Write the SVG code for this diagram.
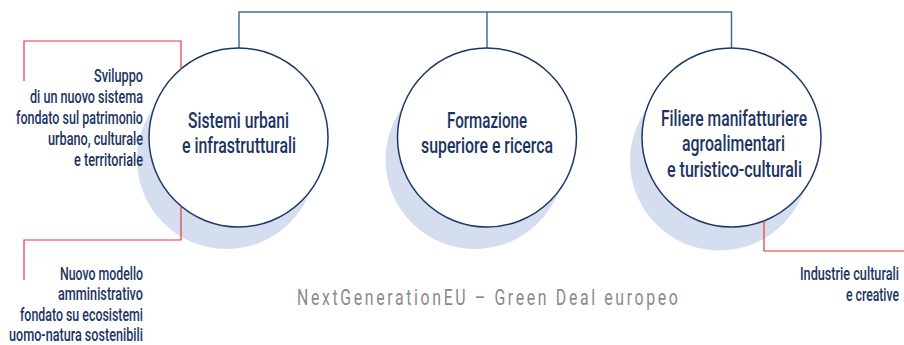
<svg xmlns="http://www.w3.org/2000/svg" width="904" height="345" viewBox="0 0 904 345">
<style>
.bg{fill:#ffffff}
.shadow{fill:#d4deee}
.ring{fill:#ffffff;stroke:#1b3766;stroke-width:1.5}
.t{font-family:Roboto,"Liberation Sans","DejaVu Sans",sans-serif;font-weight:500;fill:#1c3461}
.big{font-size:22.5px}
.small{font-size:19px}
.title{font-family:Roboto,"Liberation Sans","DejaVu Sans",sans-serif;font-weight:400;font-size:22px;fill:#8a8a8a}
.tree{fill:none;stroke:#4f6a92;stroke-width:1.5}
.red{fill:none;stroke:#e8353d;stroke-width:1.2}
</style>
<rect class="bg" x="0" y="0" width="904" height="345"/>
<g id="connectors">
<path class="tree" d="M239,48 V12 H731.5 V48 M487,12 V48"/>
</g>
<g id="node-sistemi-urbani">
<circle class="shadow" cx="226.5" cy="159.5" r="89.5"/>
<circle class="ring" cx="238.5" cy="137.5" r="89.5"/>
<text class="t big" transform="translate(188,127.5) scale(0.7,1)" x="0" y="0" textLength="144.3" lengthAdjust="spacingAndGlyphs">Sistemi urbani</text>
<text class="t big" transform="translate(182,152.5) scale(0.7,1)" x="0" y="0" textLength="162.9" lengthAdjust="spacingAndGlyphs">e infrastrutturali</text>
</g>
<g id="node-formazione">
<circle class="shadow" cx="475" cy="159.5" r="89.5"/>
<circle class="ring" cx="487" cy="137.5" r="89.5"/>
<text class="t big" transform="translate(447,127.5) scale(0.7,1)" x="0" y="0" textLength="114.3" lengthAdjust="spacingAndGlyphs">Formazione</text>
<text class="t big" transform="translate(421,152.5) scale(0.7,1)" x="0" y="0" textLength="188.6" lengthAdjust="spacingAndGlyphs">superiore e ricerca</text>
</g>
<g id="node-filiere">
<circle class="shadow" cx="719.5" cy="161" r="89.5"/>
<circle class="ring" cx="731.5" cy="137.5" r="89.5"/>
<text class="t big" transform="translate(661,125.5) scale(0.7,1)" x="0" y="0" textLength="208.6" lengthAdjust="spacingAndGlyphs">Filiere manifatturiere</text>
<text class="t big" transform="translate(682,151) scale(0.7,1)" x="0" y="0" textLength="147.1" lengthAdjust="spacingAndGlyphs">agroalimentari</text>
<text class="t big" transform="translate(667,176.5) scale(0.7,1)" x="0" y="0" textLength="192.9" lengthAdjust="spacingAndGlyphs">e turistico-culturali</text>
</g>
<g id="red-connectors">
<path class="red" d="M24,81 V41 H181 V69"/>
<path class="red" d="M181,206 V240 H24 V280"/>
<path class="red" d="M764,221 V251 H904"/>
</g>
<g id="note-sviluppo">
<text class="t small" transform="translate(94,82) scale(0.7,1)" x="0" y="0" textLength="70" lengthAdjust="spacingAndGlyphs">Sviluppo</text>
<text class="t small" transform="translate(30,103) scale(0.7,1)" x="0" y="0" textLength="161.4" lengthAdjust="spacingAndGlyphs">di un nuovo sistema</text>
<text class="t small" transform="translate(16,124) scale(0.7,1)" x="0" y="0" textLength="181.4" lengthAdjust="spacingAndGlyphs">fondato sul patrimonio</text>
<text class="t small" transform="translate(48,145) scale(0.7,1)" x="0" y="0" textLength="135.7" lengthAdjust="spacingAndGlyphs">urbano, culturale</text>
<text class="t small" transform="translate(74,166) scale(0.7,1)" x="0" y="0" textLength="98.6" lengthAdjust="spacingAndGlyphs">e territoriale</text>
</g>
<g id="note-modello">
<text class="t small" transform="translate(60,279.5) scale(0.7,1)" x="0" y="0" textLength="118.6" lengthAdjust="spacingAndGlyphs">Nuovo modello</text>
<text class="t small" transform="translate(58,300) scale(0.7,1)" x="0" y="0" textLength="121.4" lengthAdjust="spacingAndGlyphs">amministrativo</text>
<text class="t small" transform="translate(20,320.5) scale(0.7,1)" x="0" y="0" textLength="175.7" lengthAdjust="spacingAndGlyphs">fondato su ecosistemi</text>
<text class="t small" transform="translate(9,341) scale(0.7,1)" x="0" y="0" textLength="191.4" lengthAdjust="spacingAndGlyphs">uomo-natura sostenibili</text>
</g>
<g id="note-industrie">
<text class="t small" transform="translate(800,280) scale(0.7,1)" x="0" y="0" textLength="141.4" lengthAdjust="spacingAndGlyphs">Industrie culturali</text>
<text class="t small" transform="translate(846,301) scale(0.7,1)" x="0" y="0" textLength="75.7" lengthAdjust="spacingAndGlyphs">e creative</text>
</g>
<g id="title">
<text class="title" transform="translate(297,305) scale(0.72,1)" x="0" y="0" textLength="529" lengthAdjust="spacing">NextGenerationEU – Green Deal europeo</text>
</g>
</svg>
